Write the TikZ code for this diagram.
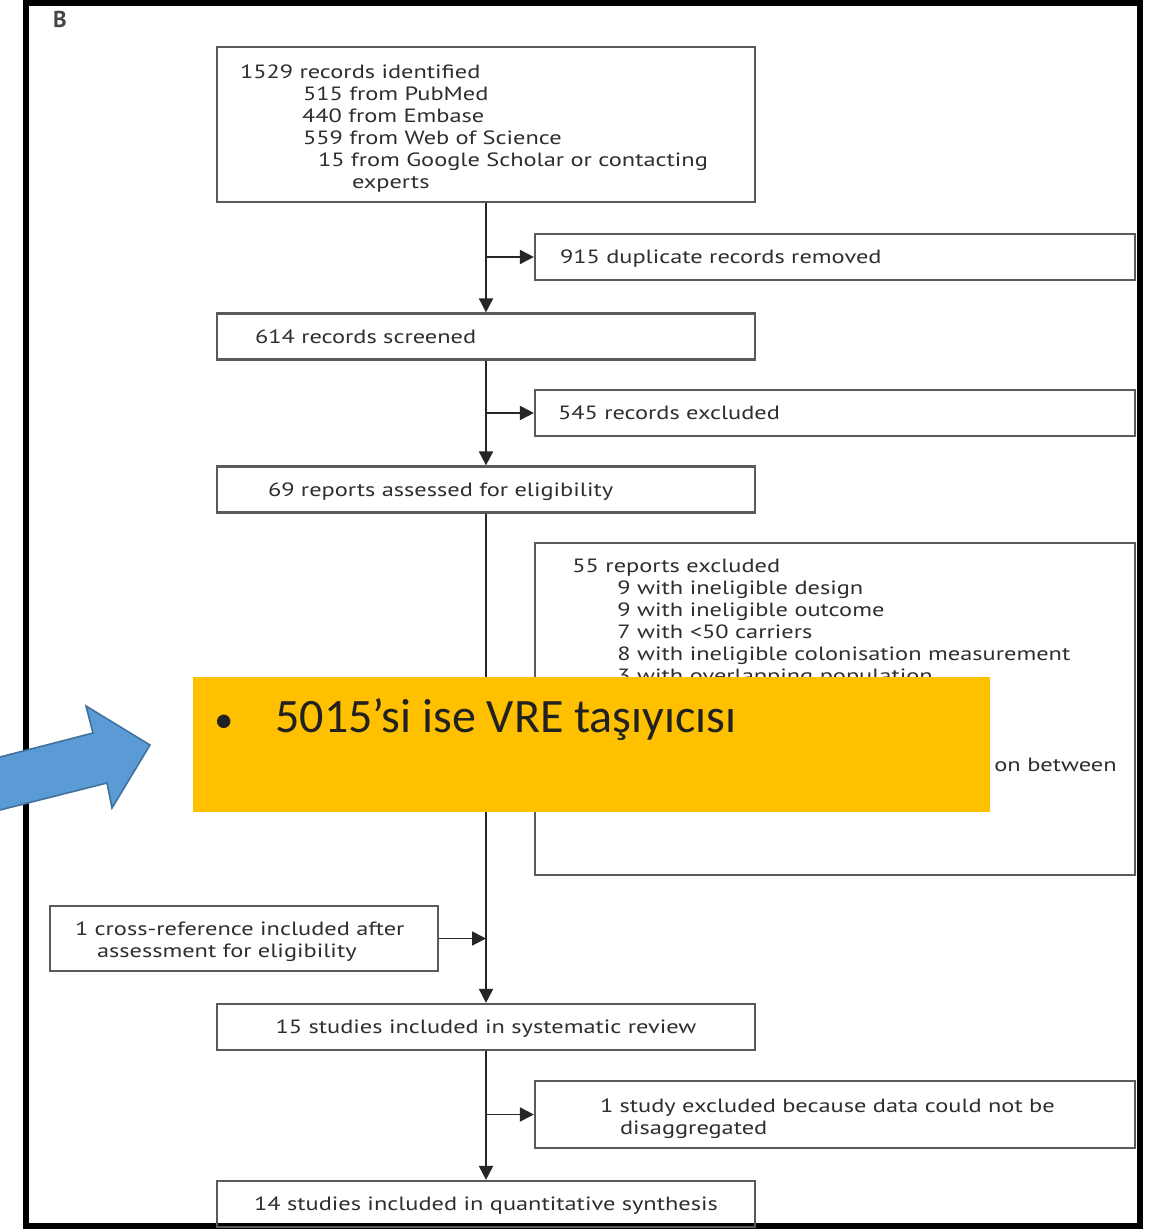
\documentclass[tikz,border=0pt]{standalone}
\usepackage{fontspec}
\setmainfont{PT Sans}
\newfontfamily\flowfont[FakeStretch=1.27]{PT Sans}
\newfontfamily\slidefont{Carlito}
\usetikzlibrary{arrows.meta,positioning}
\definecolor{boxgray}{HTML}{5A5A5A}
\definecolor{txtgray}{HTML}{2E2E2E}
\definecolor{slideyellow}{HTML}{FFC000}
\definecolor{arrowblue}{HTML}{5B9BD5}
\definecolor{arrowedge}{HTML}{41719C}
\tikzset{
  flowtext/.style={
    text = txtgray,
    font = \flowfont\fontsize{9.6}{11}\selectfont,
    inner sep = 0pt
  },
}
\tikzset{
  flowbox/.style={
    flowtext,
    draw = boxgray,
    line width = 1.1pt,
    shape = rectangle,
    align = left,
    inner ysep = 0pt
  },
  mainbox/.style={
    flowbox,
    text depth = 0pt,
    minimum height = 23pt
  },
  sidebox/.style={
    flowbox,
    text depth = 0pt,
    minimum height = 23pt
  },
  flowarrow/.style={
    draw = black!85,
    line width = 0.9pt,
    -{Triangle[length=7pt,width=7pt]}
  },
}

\begin{document}
\begin{tikzpicture}[x=0.5pt,y=-0.5pt]
        \useasboundingbox (0,0) rectangle (1171,1229);
        \fill[white] (0,0) rectangle (1171,1229);

        % frame
        \draw[line width=3pt] (25.5,3) rectangle (1140,1226);
        \node[font=\bfseries\fontsize{11.5}{13}\selectfont, text=black!72] (panel) at (60,19) {B};

        % main column
        \node[flowbox, minimum height=77.5pt, inner xsep=11.5pt, text width=246pt] (identified) at (486,124.5)
            {\rule{0pt}{10.5pt}1529 records identified\\
             \hspace*{31.5pt}515 from PubMed\\
             \hspace*{31pt}440 from Embase\\
             \hspace*{31.5pt}559 from Web of Science\\
             \hspace*{39pt}15 from Google Scholar or contacting\\
             \hspace*{56pt}experts};
        \node[mainbox, inner xsep=19pt, text width=231pt] (screened) at (486,336.5) {614 records screened};
        \node[mainbox, inner xsep=25.5pt, text width=218pt] (assessed) at (486,489.5) {69 reports assessed for eligibility};
        \node[mainbox, align=center, inner xsep=5pt, text width=259pt] (studies15) at (486,1027) {15 studies included in systematic review};
        \node[mainbox, align=center, inner xsep=5pt, text width=259pt] (studies14) at (486,1204) {14 studies included in quantitative synthesis};

        % side boxes
        \node[sidebox, inner xsep=12.5pt, text width=275pt] (dup) at (835,257) {915 duplicate records removed};
        \node[sidebox, inner xsep=11.5pt, text width=277pt] (excl545) at (835,413) {545 records excluded};
        \node[sidebox, minimum width=300pt, minimum height=166pt] (excl55) at (835,709) {};
        \node[flowtext, align=left, anchor=north west] (excl55txt) at (572,559)
            {55 reports excluded\\
             \hspace*{22.5pt}9 with ineligible design\\
             \hspace*{22.5pt}9 with ineligible outcome\\
             \hspace*{22.5pt}7 with <50 carriers\\
             \hspace*{22.5pt}8 with ineligible colonisation measurement\\
             \hspace*{22.5pt}3 with overlapping population};
        \node[flowtext, anchor=base west] (excl55cut) at (994,771) {on between};
        \node[flowbox, minimum height=33.5pt, inner xsep=32.5pt, text width=235pt] (excl1) at (835,1114.5)
            {\rule{0pt}{11.5pt}1 study excluded because data could not be\\
             \hspace*{10pt}disaggregated};
        \node[flowbox, minimum height=32.5pt, inner xsep=12.5pt, text width=169pt] (crossref) at (244,938.5)
            {\rule{0pt}{10pt}1 cross-reference included after\\
             \hspace*{11pt}assessment for eligibility};

        % connectors
        \draw[flowarrow] (identified.south) -- (screened.north);
        \draw[flowarrow] (identified.south |- dup.west) -- (dup.west);
        \draw[flowarrow] (screened.south) -- (assessed.north);
        \draw[flowarrow] (screened.south |- excl545.west) -- (excl545.west);
        \draw[flowarrow] (assessed.south) -- (studies15.north);
        \draw[flowarrow] (assessed.south |- excl55.west) -- (excl55.west);
        \draw[flowarrow] (crossref.east) -- (crossref.east -| assessed.south);
        \draw[flowarrow] (studies15.south) -- (studies14.north);
        \draw[flowarrow] (studies15.south |- excl1.west) -- (excl1.west);

        % slide overlay
        \node[fill=slideyellow, inner sep=0pt, minimum width=398.5pt, minimum height=67.5pt, anchor=north west] (slide) at (193,677) {};
        \node[font=\slidefont\fontsize{24}{28}\selectfont, text=black!87, inner sep=0pt, anchor=base west] (slidetxt) at (214,732)
            {\makebox[30.5pt][l]{\fontsize{19}{20}\selectfont•}5015’si ise VRE taşıyıcısı};

        % blue arrow
        \fill[arrowblue] (0,757) -- (93,733) -- (86,706) -- (150,745) -- (112,808) -- (107,783) -- (0,810) -- cycle;
        \draw[arrowedge, line width=0.8pt, line join=miter] (0,757) -- (93,733) -- (86,706) -- (150,745) -- (112,808) -- (107,783) -- (0,810);
\end{tikzpicture}
\end{document}
